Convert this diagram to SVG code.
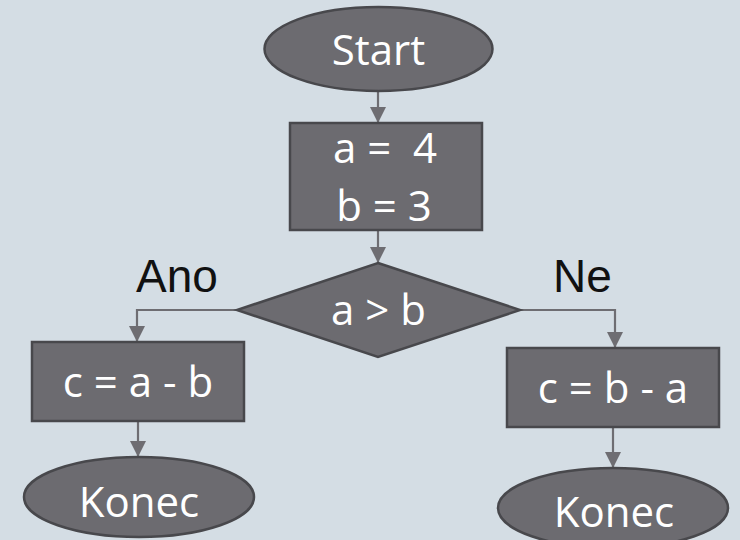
<svg xmlns="http://www.w3.org/2000/svg" width="740" height="540" viewBox="0 0 740 540">
<defs>
<marker id="ah" markerUnits="userSpaceOnUse" markerWidth="18" markerHeight="18" viewBox="0 0 18 18" refX="16" refY="9" orient="auto">
<path d="M0,1 L16,9 L0,17 Z" fill="#6e6d72"/>
</marker>
</defs>
<style>
.shape{fill:#6c6b70;stroke:#48484c;stroke-width:2.5}
.t{font-family:"Open Sans","DejaVu Sans",sans-serif;font-size:42px;fill:#ffffff;text-anchor:middle;white-space:pre}
.lbl{font-family:"Liberation Sans",Arial,sans-serif;font-size:46px;fill:#111111}
.c{fill:none;stroke:#6e6d72;stroke-width:2.2;marker-end:url(#ah)}
</style>
<rect width="740" height="540" fill="#d4dde4"/>
<g id="connectors">
<path class="c" d="M378,91 V123"/>
<path class="c" d="M378,230 V263"/>
<path class="c" d="M237,310 H137 V342"/>
<path class="c" d="M520,310 H615 V348"/>
<path class="c" d="M138,421 V457"/>
<path class="c" d="M613,427 V468"/>
</g>
<g id="start">
<ellipse class="shape" cx="378.5" cy="49" rx="114" ry="42"/>
<text class="t" x="378.5" y="65">Start</text>
</g>
<g id="assign">
<rect class="shape" x="290" y="123" width="192" height="107"/>
<text class="t" x="385" y="163" xml:space="preserve">a =  4</text>
<text class="t" x="384" y="221">b = 3</text>
</g>
<g id="decision">
<polygon class="shape" points="378,263 520,310 378,357 237,310"/>
<text class="t" x="378.5" y="325">a &gt; b</text>
</g>
<g id="label-ano">
<text class="lbl" x="136" y="292">Ano</text>
</g>
<g id="label-ne">
<text class="lbl" x="553" y="292">Ne</text>
</g>
<g id="calc-left">
<rect class="shape" x="32" y="342" width="212" height="79"/>
<text class="t" x="138" y="397">c = a - b</text>
</g>
<g id="calc-right">
<rect class="shape" x="507" y="348" width="212" height="79"/>
<text class="t" x="613" y="403">c = b - a</text>
</g>
<g id="end-left">
<ellipse class="shape" cx="139" cy="497" rx="115" ry="40"/>
<text class="t" x="139" y="517">Konec</text>
</g>
<g id="end-right">
<ellipse class="shape" cx="613" cy="508" rx="115" ry="40"/>
<text class="t" x="614" y="527">Konec</text>
</g>
</svg>
